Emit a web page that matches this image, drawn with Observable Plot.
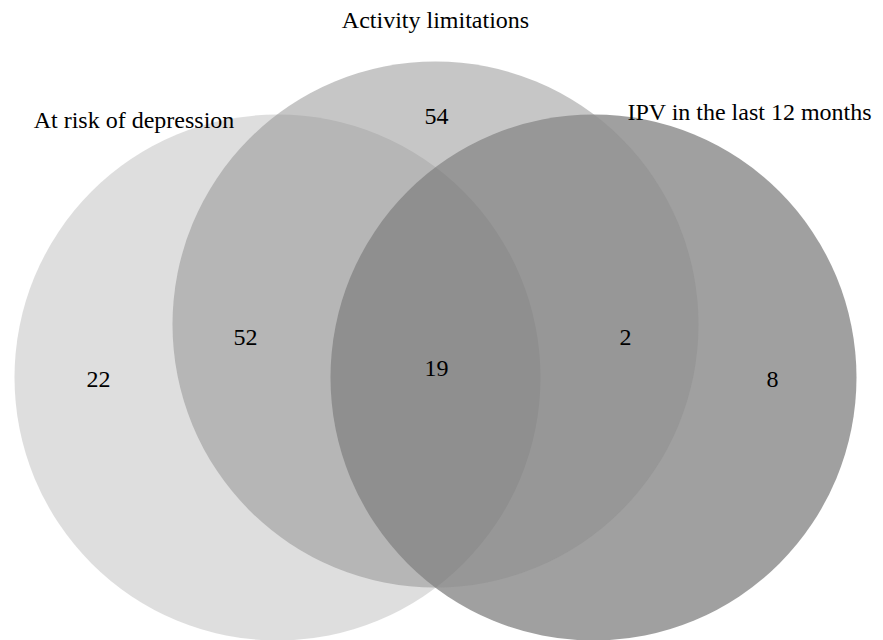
<!DOCTYPE html>
<html>
<head>
<meta charset="utf-8">
<script src="https://cdn.jsdelivr.net/npm/d3@7"></script>
<script src="https://cdn.jsdelivr.net/npm/@observablehq/plot@0.6"></script>
<style>
  html, body { margin: 0; padding: 0; background: #fff; }
  #chart { width: 883px; height: 640px; overflow: hidden; }
</style>
</head>
<body>
<div id="chart"></div>
<script>
// ---- data ----
const setNames = ["At risk of depression", "Activity limitations", "IPV in the last 12 months"];
const setFills = ["#bdbdbd", "#8e8e8e", "#414141"];
const regionNames = ["depression only", "activity only", "IPV only", "depression & activity", "activity & IPV", "all three"];
const regionCounts = [22, 54, 8, 52, 2, 19];

// ---- layout (diagram geometry, in pixels) ----
const R = 263;
const circleCenters = [[277, 377], [435, 324], [593, 377]];
const drawOrder = [0, 2, 1];
const setLabelPos = [[133.5, 120], [435, 20], [749, 112]];
const regionLabelPos = [[98, 379], [436, 116], [772, 379], [245, 337], [625, 337], [436, 368]];

const circles = drawOrder.map(i => ({
  name: setNames[i], fill: setFills[i],
  cx: circleCenters[i][0], cy: circleCenters[i][1]
}));
const setLabels = setNames.map((n, i) => ({name: n, x: setLabelPos[i][0], y: setLabelPos[i][1]}));
const regions = regionNames.map((n, i) => ({
  name: n, count: regionCounts[i], x: regionLabelPos[i][0], y: regionLabelPos[i][1]
}));

const chart = Plot.plot({
  width: 883,
  height: 640,
  margin: 0,
  x: {domain: [0, 883], range: [0, 883], axis: null},
  y: {domain: [0, 640], range: [0, 640], axis: null},
  style: {fontFamily: "'Liberation Serif', 'DejaVu Serif', serif", background: "#fff"},
  marks: [
    Plot.dot(circles, {x: "cx", y: "cy", r: R, fill: "fill", fillOpacity: 0.5, stroke: null}),
    Plot.text(regions, {x: "x", y: "y", text: d => String(d.count), fontSize: 24, fill: "#000", textAnchor: "middle", lineAnchor: "middle"}),
    Plot.text(setLabels, {x: "x", y: "y", text: "name", fontSize: 24, fill: "#000", textAnchor: "middle", lineAnchor: "middle"})
  ]
});
document.getElementById("chart").appendChild(chart);
</script>
</body>
</html>
